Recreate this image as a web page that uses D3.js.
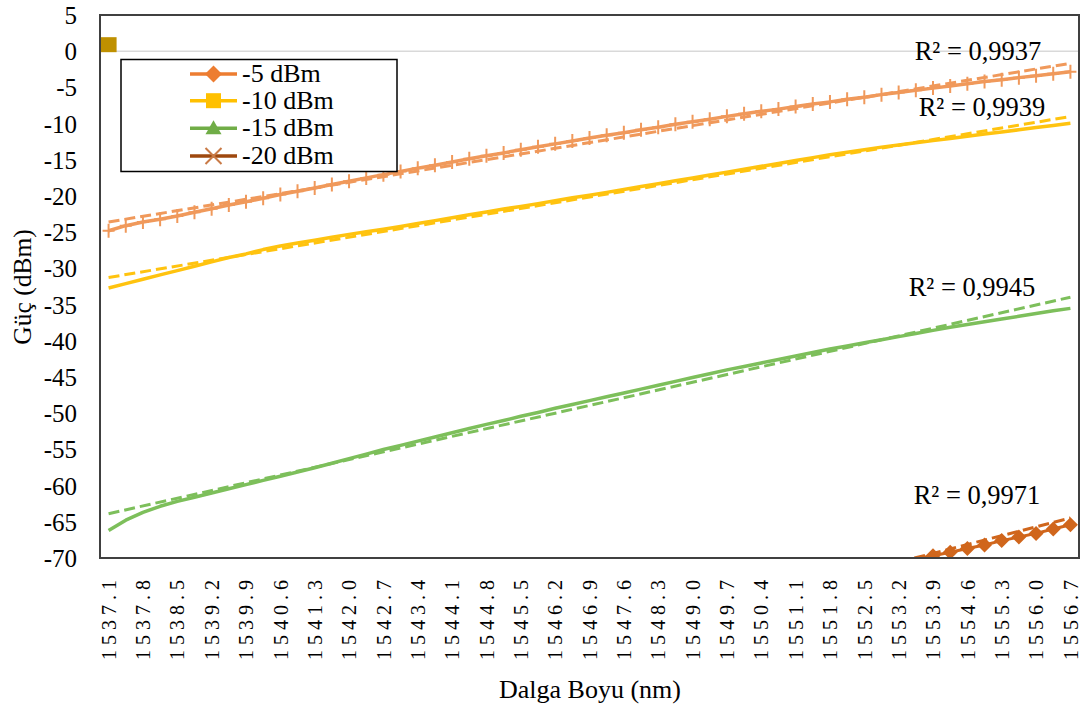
<!DOCTYPE html>
<html><head><meta charset="utf-8">
<script src="https://cdn.jsdelivr.net/npm/d3@7"></script>
<style>
body{margin:0;background:#fff;}
svg text{font-family:'Liberation Serif','Times New Roman','DejaVu Serif',serif !important;fill:#000;}
</style>
</head><body>
<svg id="chart" width="1085" height="709"></svg>
<script>
// ---- data ----
const categories = ["1537.1","1537.45","1537.8","1538.15","1538.5","1538.85","1539.2","1539.55","1539.9","1540.25",
"1540.6","1540.95","1541.3","1541.65","1542.0","1542.35","1542.7","1543.05","1543.4","1543.75",
"1544.1","1544.45","1544.8","1545.15","1545.5","1545.85","1546.2","1546.55","1546.9","1547.25",
"1547.6","1547.95","1548.3","1548.65","1549.0","1549.35","1549.7","1550.05","1550.4","1550.75",
"1551.1","1551.45","1551.8","1552.15","1552.5","1552.85","1553.2","1553.55","1553.9","1554.25",
"1554.6","1554.95","1555.3","1555.65","1556.0","1556.35","1556.7"];
const tickLabels = ["1537.1","1537.8","1538.5","1539.2","1539.9","1540.6","1541.3","1542.0","1542.7","1543.4",
"1544.1","1544.8","1545.5","1546.2","1546.9","1547.6","1548.3","1549.0","1549.7","1550.4",
"1551.1","1551.8","1552.5","1553.2","1553.9","1554.6","1555.3","1556.0","1556.7"];
const yTicks = [5,0,-5,-10,-15,-20,-25,-30,-35,-40,-45,-50,-55,-60,-65,-70];

const seriesTop = [-24.8,-24.1,-23.6,-23.2,-22.75,-22.25,-21.75,-21.25,-20.8,-20.3,-19.8,-19.35,-18.9,-18.4,-17.95,-17.5,-17.05,-16.6,-16.15,-15.75,-15.3,-14.85,-14.45,-14.05,-13.6,-13.2,-12.8,-12.4,-12.0,-11.6,-11.25,-10.85,-10.5,-10.1,-9.75,-9.4,-9.0,-8.65,-8.3,-8.0,-7.65,-7.3,-7.0,-6.65,-6.35,-6.0,-5.7,-5.4,-5.1,-4.8,-4.5,-4.2,-3.95,-3.65,-3.4,-3.1,-2.85];
const seriesYellow = [-32.7,-32.1,-31.5,-30.9,-30.3,-29.7,-29.1,-28.5,-28.0,-27.4,-26.9,-26.5,-26.1,-25.7,-25.3,-24.95,-24.6,-24.2,-23.8,-23.4,-23.0,-22.6,-22.2,-21.8,-21.45,-21.05,-20.65,-20.25,-19.9,-19.5,-19.1,-18.7,-18.3,-17.9,-17.5,-17.1,-16.7,-16.3,-15.9,-15.5,-15.1,-14.7,-14.3,-13.95,-13.6,-13.25,-12.95,-12.65,-12.35,-12.05,-11.75,-11.45,-11.15,-10.85,-10.55,-10.25,-9.95];
const seriesGreen = [-66.2,-64.77,-63.69,-62.86,-62.18,-61.6,-61.02,-60.44,-59.86,-59.28,-58.7,-58.12,-57.54,-56.91,-56.28,-55.65,-55.02,-54.44,-53.86,-53.28,-52.7,-52.12,-51.54,-51.01,-50.43,-49.9,-49.32,-48.79,-48.26,-47.73,-47.2,-46.67,-46.14,-45.61,-45.08,-44.55,-44.02,-43.54,-43.06,-42.58,-42.1,-41.62,-41.14,-40.71,-40.28,-39.85,-39.42,-38.99,-38.56,-38.13,-37.75,-37.37,-36.99,-36.61,-36.23,-35.85,-35.52];
const seriesDiamond = [-99.7,-99.0,-98.2,-97.5,-96.8,-96.1,-95.4,-94.7,-94.0,-93.3,-92.6,-92.0,-91.3,-90.6,-89.9,-89.3,-88.6,-87.9,-87.3,-86.6,-86.0,-85.4,-84.7,-84.1,-83.5,-82.8,-82.2,-81.6,-81.0,-80.4,-79.8,-79.2,-78.6,-78.0,-77.4,-76.8,-76.2,-75.6,-75.1,-74.5,-73.9,-73.4,-72.8,-72.2,-71.7,-71.1,-70.6,-70.1,-69.7,-69.2,-68.7,-68.2,-67.6,-67.1,-66.6,-66.0,-65.4];
const cornerSquare = [0.9];
const legendNames = ["-5 dBm","-10 dBm","-15 dBm","-20 dBm"];
const r2Labels = ["R² = 0,9937","R² = 0,9939","R² = 0,9945","R² = 0,9971"];
const xTitle = "Dalga Boyu (nm)";
const yTitle = "Güç (dBm)";

// ---- layout ----
const FONT = "'Liberation Serif','Times New Roman','DejaVu Serif',serif";
const svg = d3.select("#chart").attr("font-family", FONT);
const L = 100, R = 1079, T = 15, B = 558;
const x = d3.scaleBand().domain(categories).range([L, R]).padding(0);
const y = d3.scaleLinear().domain([-70, 5]).range([B, T]);
const cx = i => x(categories[i]) + x.bandwidth() / 2;

svg.append("rect").attr("width",1085).attr("height",709).attr("fill","#fff");
svg.append("defs").append("clipPath").attr("id","plotClip")
  .append("rect").attr("x",L).attr("y",T).attr("width",R-L).attr("height",B-T);

// zero line (category axis line)
svg.append("line").attr("x1",L).attr("x2",R).attr("y1",y(0)).attr("y2",y(0))
  .attr("stroke","#d9d9d9").attr("stroke-width",1.5);

// y axis labels
const yAxis = d3.axisLeft(y).tickValues(yTicks).tickSize(0).tickFormat(d => String(d));
const gy = svg.append("g").attr("transform",`translate(${L-23},0)`).call(yAxis);
gy.attr("font-family", FONT);
gy.select(".domain").remove();
gy.selectAll("text").attr("font-size",25).attr("fill","#000").attr("x",0).attr("dy","0.34em");

// x axis labels
const xAxis = d3.axisBottom(x).tickValues(tickLabels).tickSize(0);
const gx = svg.append("g").attr("transform",`translate(0,${B})`).call(xAxis);
gx.attr("font-family", FONT);
gx.select(".domain").remove();
gx.selectAll("text").attr("font-size",20).attr("fill","#000")
  .attr("transform","rotate(-90)").attr("text-anchor","end")
  .attr("x",-22).attr("y",0).attr("dy","0.36em")
  .attr("textLength",80).attr("lengthAdjust","spacing");

// titles
svg.append("text").attr("x",590).attr("y",698).attr("text-anchor","middle").attr("font-size",26).text(xTitle);
svg.append("text").attr("transform","translate(31,287) rotate(-90)").attr("text-anchor","middle").attr("font-size",25.5).text(yTitle);

// series
const plot = svg.append("g").attr("clip-path","url(#plotClip)");
const line = d3.line().x((d,i)=>cx(i)).y(d=>y(d));
function trend(vals){
  const n = vals.length, xs = d3.range(n);
  const mx = d3.mean(xs), my = d3.mean(vals);
  const sxy = d3.sum(xs, i => (i-mx)*(vals[i]-my)), sxx = d3.sum(xs, i => (i-mx)*(i-mx));
  const b = sxy/sxx, a = my - b*mx;
  return [[0, a],[n-1, a + b*(n-1)]];
}
function drawSeries(vals, color, w){
  plot.append("path").datum(vals).attr("d",line).attr("fill","none")
    .attr("stroke",color).attr("stroke-width",w).attr("stroke-linejoin","round");
}
function drawTrend(vals, color, w){
  const t = trend(vals);
  plot.append("line").attr("x1",cx(t[0][0])).attr("y1",y(t[0][1])).attr("x2",cx(t[1][0])).attr("y2",y(t[1][1]))
    .attr("stroke",color).attr("stroke-width",w).attr("stroke-dasharray","11,5");
}
const cTop = "#F0995B", cYel = "#FFC30F", cGrn = "#7DBF5B", cDia = "#D0661C";

drawSeries(seriesYellow, cYel, 3.5);
drawSeries(seriesGreen, cGrn, 3.5);
drawSeries(seriesTop, cTop, 3.5);
drawSeries(seriesDiamond, cDia, 3);

// plus markers for top series
plot.append("g").selectAll("path").data(seriesTop).join("path")
  .attr("d",(d,i)=>`M${cx(i)},${y(d)-7}V${y(d)+7}M${cx(i)-6},${y(d)}H${cx(i)+6}`)
  .attr("stroke",cTop).attr("stroke-width",2).attr("fill","none");

// diamond markers
plot.append("g").selectAll("path").data(seriesDiamond.map((v,i)=>({v,i})).filter(d=>d.v>=-70))
  .join("path")
  .attr("d",d=>{const px=cx(d.i), py=y(d.v), r=7.5; return `M${px},${py-r}L${px+r},${py}L${px},${py+r}L${px-r},${py}Z`;})
  .attr("fill",cDia);

drawTrend(seriesTop, cTop, 3);
drawTrend(seriesYellow, cYel, 3);
drawTrend(seriesGreen, cGrn, 3);
drawTrend(seriesDiamond, cDia, 3);

// corner square marker
plot.append("g").selectAll("rect").data(cornerSquare).join("rect")
  .attr("x",(d,i)=>cx(i)-8).attr("y",d=>y(d)-7.5).attr("width",16).attr("height",15)
  .attr("fill","#BF9000");

// plot border
svg.append("rect").attr("x",L).attr("y",T).attr("width",R-L).attr("height",B-T)
  .attr("fill","none").attr("stroke","#404040").attr("stroke-width",2);

// R² labels
const r2Pos = [[978,60],[982,116],[972,296],[977,504]];
svg.append("g").selectAll("text").data(r2Labels).join("text")
  .attr("x",(d,i)=>r2Pos[i][0]).attr("y",(d,i)=>r2Pos[i][1])
  .attr("text-anchor","middle").attr("font-size",26.5).text(d=>d);

// legend
const lg = svg.append("g");
lg.append("rect").attr("x",121).attr("y",59.5).attr("width",276).attr("height",112)
  .attr("fill","#fff").attr("stroke","#000").attr("stroke-width",1.5);
const legColors = ["#ED7D31","#FFC000","#70AD47","#9E480E"];
const legMark = ["#ED7D31","#FFC000","#70AD47","#C97A46"];
const rowY = [74,100.7,128.3,156];
legendNames.forEach((name,k)=>{
  const yy = rowY[k];
  lg.append("line").attr("x1",190).attr("x2",237).attr("y1",yy).attr("y2",yy)
    .attr("stroke",legColors[k]).attr("stroke-width",3.5);
  const mx = 213.5;
  if(k===0) lg.append("path").attr("d",`M${mx},${yy-8.5}L${mx+8.5},${yy}L${mx},${yy+8.5}L${mx-8.5},${yy}Z`).attr("fill",legMark[k]);
  if(k===1) lg.append("rect").attr("x",mx-7.5).attr("y",yy-7.5).attr("width",15).attr("height",15).attr("fill",legMark[k]);
  if(k===2) lg.append("path").attr("d",`M${mx},${yy-8}L${mx+8},${yy+6}L${mx-8},${yy+6}Z`).attr("fill",legMark[k]);
  if(k===3) lg.append("path").attr("d",`M${mx-8},${yy-8}L${mx+8},${yy+8}M${mx+8},${yy-8}L${mx-8},${yy+8}`).attr("stroke",legMark[k]).attr("stroke-width",2);
  lg.append("text").attr("x",242).attr("y",yy+8).attr("font-size",26).text(name);
});
</script>
</body></html>
